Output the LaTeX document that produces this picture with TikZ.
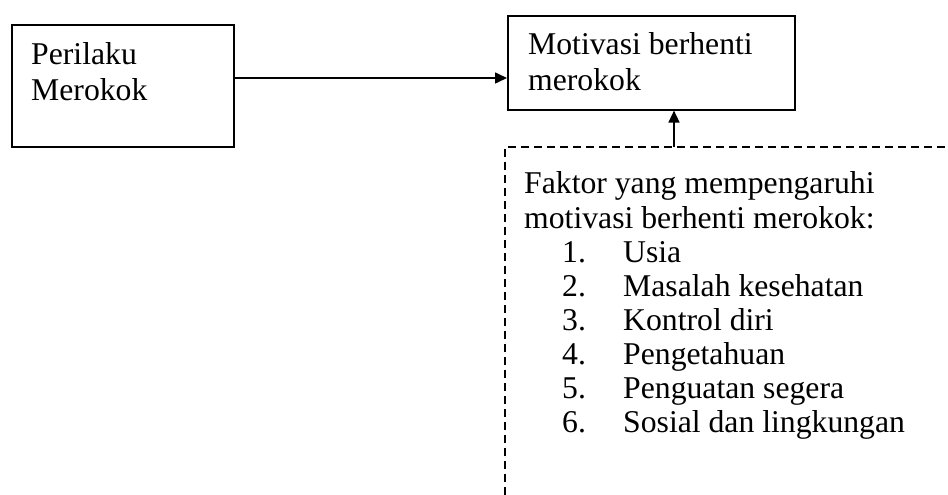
\documentclass[tikz,border=0pt]{standalone}
\usepackage{fontspec}
\setmainfont{Liberation Serif}
\usetikzlibrary{arrows.meta}
\begin{document}
\begin{tikzpicture}[x=1pt,y=-1pt,
  boxstyle/.style={draw,line width=1.6pt,inner sep=0pt,anchor=north west},
  txt/.style={anchor=base west,inner sep=0pt,font=\fontsize{31.7}{36}\selectfont},
  conn/.style={line width=1.6pt,-{Triangle[length=12pt,width=11pt]}},
  dashline/.style={line width=1.6pt,dash pattern=on 8pt off 5pt}]
\useasboundingbox (0,0) rectangle (948,495);
\node[boxstyle,minimum width=222pt,minimum height=122pt] (box1) at (11,24) {};
\node[boxstyle,minimum width=287pt,minimum height=94pt] (box2) at (507,15) {};
\node[txt] (t1a) at (31,65) {Perilaku};
\node[txt] (t1b) at (31,100) {Merokok};
\node[txt] (t2a) at (528,55) {Motivasi berhenti};
\node[txt] (t2b) at (528,91) {merokok};
\draw[dashline] (505,495) -- (505,147) -- (948,147);
\coordinate (f) at (674,147);
\node[txt] (h1) at (524,193) {Faktor yang mempengaruhi};
\node[txt] (h2) at (524,228) {motivasi berhenti merokok:};
\foreach \i/\t [count=\k] in {1/Usia,2/Masalah kesehatan,3/Kontrol diri,4/Pengetahuan,5/Penguatan segera,6/Sosial dan lingkungan}{
  \node[txt] (n\k) at (562,{228+34*\k}) {\i.};
  \node[txt] (i\k) at (623,{228+34*\k}) {\t};
}
\draw[conn] (box1.east |- 0,78) -- (box2.west |- 0,78);
\draw[conn] (f) -- (f |- box2.south);
\end{tikzpicture}
\end{document}
